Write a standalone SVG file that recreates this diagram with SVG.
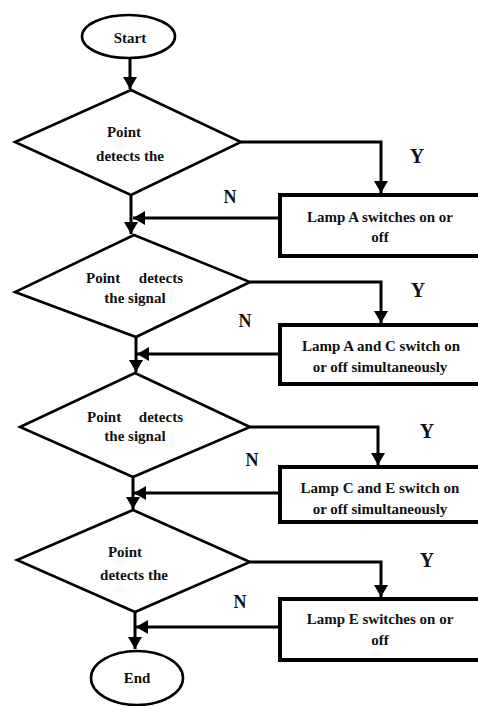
<svg xmlns="http://www.w3.org/2000/svg" width="478" height="706" viewBox="0 0 478 706">
<style>
.sh{fill:#fff;stroke:#000;stroke-width:2.6}
.bx{fill:#fff;stroke:#000;stroke-width:4}
.t{font-family:"Liberation Serif","Times New Roman",serif;font-weight:bold;font-size:15px;fill:#111;text-anchor:middle}
.ts{text-anchor:start}
.te{text-anchor:end}
.yn{font-family:"Liberation Serif","Times New Roman",serif;font-weight:bold;fill:#111;text-anchor:middle}
.c{fill:none;stroke:#000;stroke-width:3}
</style>
<defs>
<marker id="ah" markerUnits="userSpaceOnUse" markerWidth="12" markerHeight="14" viewBox="0 0 12 14" refX="12" refY="7" orient="auto">
<path d="M0,0 L12,7 L0,14 Z" fill="#000"/>
</marker>
</defs>
<rect width="478" height="706" fill="#fff"/>
<g id="connectors">
<path class="c" d="M130,58 V89" marker-end="url(#ah)"/>
<path class="c" d="M131,195 V234" marker-end="url(#ah)"/>
<path class="c" d="M136,337 V372" marker-end="url(#ah)"/>
<path class="c" d="M133,477 V509" marker-end="url(#ah)"/>
<path class="c" d="M135,612 V649" marker-end="url(#ah)"/>
<path class="c" d="M241,142 H381 V193" marker-end="url(#ah)"/>
<path class="c" d="M250,282 H381 V323" marker-end="url(#ah)"/>
<path class="c" d="M250,427 H378 V465" marker-end="url(#ah)"/>
<path class="c" d="M250,562 H381 V597" marker-end="url(#ah)"/>
<path class="c" d="M278,218 H133" marker-end="url(#ah)"/>
<path class="c" d="M278,354 H137" marker-end="url(#ah)"/>
<path class="c" d="M278,493 H134" marker-end="url(#ah)"/>
<path class="c" d="M278,627 H136" marker-end="url(#ah)"/>
<text class="yn" font-size="20" x="417" y="163">Y</text>
<text class="yn" font-size="20" x="418" y="297">Y</text>
<text class="yn" font-size="20" x="427" y="438">Y</text>
<text class="yn" font-size="20" x="427" y="567">Y</text>
<text class="yn" font-size="18" x="230" y="203">N</text>
<text class="yn" font-size="18" x="245" y="327">N</text>
<text class="yn" font-size="18" x="252" y="466">N</text>
<text class="yn" font-size="18" x="240" y="608">N</text>
</g>
<g id="start">
<ellipse class="sh" cx="128.5" cy="36.5" rx="46.5" ry="21.5"/>
<text class="t" x="130" y="43">Start</text>
</g>
<g id="decision1">
<polygon class="sh" points="131,90 241,142 131,195 15,142"/>
<text class="t" x="124" y="137">Point</text>
<text class="t" x="130" y="161">detects the</text>
</g>
<g id="lampA">
<rect class="bx" x="280" y="195" width="210" height="61"/>
<text class="t" x="380" y="222">Lamp A switches on or</text>
<text class="t" x="380" y="242">off</text>
</g>
<g id="decision2">
<polygon class="sh" points="134,235 250,282 136,337 15,292"/>
<text class="t ts" x="86" y="283">Point</text>
<text class="t te" x="183" y="283">detects</text>
<text class="t" x="135" y="303">the signal</text>
</g>
<g id="lampAC">
<rect class="bx" x="280" y="325" width="210" height="59"/>
<text class="t" x="381" y="351">Lamp A and C switch on</text>
<text class="t" x="380" y="372">or off simultaneously</text>
</g>
<g id="decision3">
<polygon class="sh" points="135,373 250,427 133,477 20,427"/>
<text class="t ts" x="87" y="422">Point</text>
<text class="t te" x="183" y="422">detects</text>
<text class="t" x="135" y="441">the signal</text>
</g>
<g id="lampCE">
<rect class="bx" x="280" y="467" width="210" height="55"/>
<text class="t" x="380" y="493">Lamp C and E switch on</text>
<text class="t" x="380" y="514">or off simultaneously</text>
</g>
<g id="decision4">
<polygon class="sh" points="133,510 250,562 135,612 17,560"/>
<text class="t" x="125" y="557">Point</text>
<text class="t" x="134" y="580">detects the</text>
</g>
<g id="lampE">
<rect class="bx" x="280" y="599" width="210" height="61"/>
<text class="t" x="380" y="624">Lamp E switches on or</text>
<text class="t" x="380" y="645">off</text>
</g>
<g id="end">
<ellipse class="sh" cx="137" cy="678" rx="46" ry="27"/>
<text class="t" x="137" y="683">End</text>
</g>
</svg>
